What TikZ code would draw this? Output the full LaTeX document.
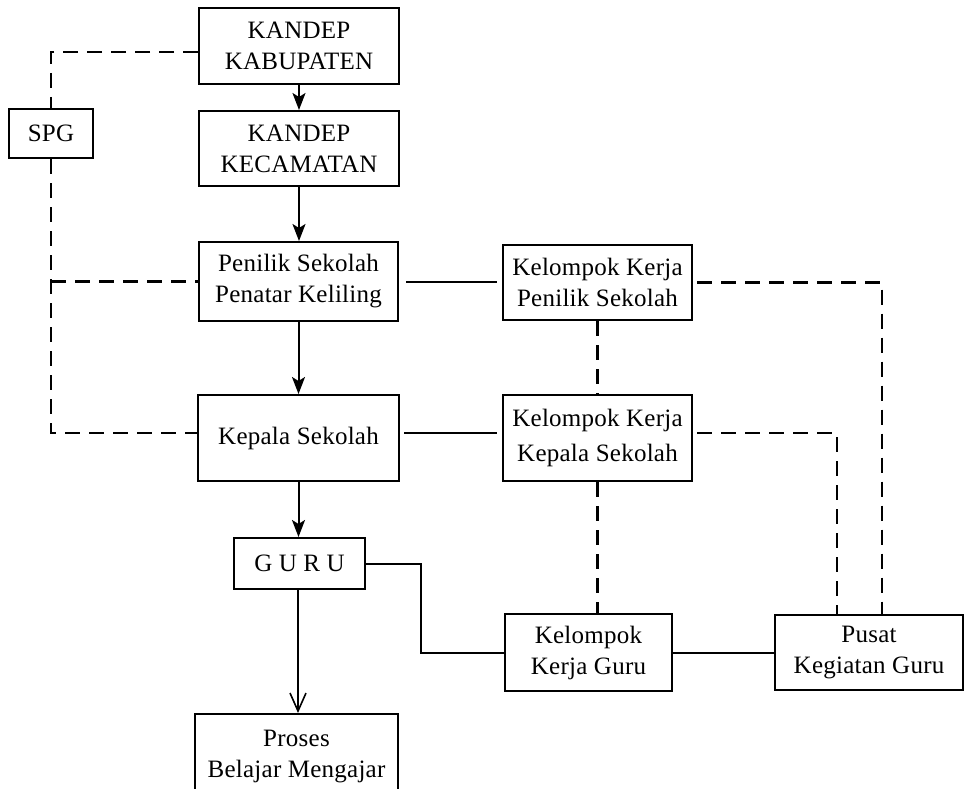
\documentclass[tikz,border=0pt]{standalone}
\usepackage{fontspec}
\setmainfont[LetterSpace=1]{Liberation Serif}
\usetikzlibrary{arrows.meta}
\begin{document}
\begin{tikzpicture}[x=1pt,y=-1pt,
  box/.style={draw,line width=2pt,rectangle,align=center,inner sep=0pt,
    font=\fontsize{25}{31}\selectfont},
  solidline/.style={line width=2pt},
  dashline/.style={line width=2.2pt,dash pattern=on 15pt off 9pt},
  arr/.style={line width=2pt,-{Stealth[length=17pt,width=13pt,inset=4pt]}},
  openarr/.style={line width=2pt,-{Straight Barb[length=18pt,width=16pt,line width=1.6pt]}}]
\useasboundingbox (0,0) rectangle (964,789);
\clip (0,0) rectangle (964,789);
\node[box,minimum width=200pt,minimum height=76pt] (kab) at (299,46) {KANDEP\\KABUPATEN};
\node[box,minimum width=200pt,minimum height=75pt] (kec) at (299,148.5) {KANDEP\\KECAMATAN};
\node[box,minimum width=84pt,minimum height=49pt] (spg) at (51,133.5) {SPG};
\node[box,minimum width=199pt,minimum height=79pt] (pen) at (298.5,281.5) {Penilik Sekolah\\Penatar Keliling};
\node[box,minimum width=189pt,minimum height=75pt] (kkps) at (597.5,282.5) {Kelompok Kerja\\Penilik Sekolah};
\node[box,minimum width=201pt,minimum height=86pt] (kep) at (298.5,438) {Kepala Sekolah};
\node[box,minimum width=189pt,minimum height=86pt,font=\fontsize{25}{35}\selectfont] (kkks) at (597.5,438) {Kelompok Kerja\\Kepala Sekolah};
\node[box,minimum width=131pt,minimum height=51pt] (guru) at (299.5,563.5) {G U R U};
\node[box,minimum width=167pt,minimum height=77pt] (kkg) at (588.5,652.5) {Kelompok\\Kerja Guru};
\node[box,minimum width=188pt,minimum height=75pt] (pusat) at (869,652.5) {Pusat\\Kegiatan Guru};
\node[box,minimum width=203pt,minimum height=86pt,anchor=north] (proses) at (296.5,713) {Proses\\Belajar Mengajar};
\coordinate (gk) at (421,564);
% arrows
\draw[arr] (kab.south) -- (kab.south |- kec.north);
\draw[arr] (kec.south) -- (kec.south |- pen.north);
\draw[arr] (pen.south) -- (pen.south |- kep.north);
\draw[arr] (kep.south) -- (kep.south |- guru.north);
\draw[openarr] ([xshift=-1.5pt]guru.south) -- ([xshift=-1.5pt]guru.south |- proses.north);
% solid connectors
\draw[solidline,shorten <=7pt,shorten >=5pt] (pen.east) -- (pen.east -| kkps.west);
\draw[solidline,shorten <=4pt,shorten >=5pt] ([yshift=5pt]kep.east) -- ([yshift=5pt]kkks.west);
\draw[solidline] (guru.east) -| (gk |- kkg.west) -- (kkg.west);
\draw[solidline] (kkg.east) -- (kkg.east -| pusat.west);
% dashed connectors
\draw[dashline] ([yshift=-6pt]kab.west) -| (spg.north);
\draw[dashline] (spg.south) |- ([yshift=5pt]kep.west);
\draw[dashline] (spg.south |- pen.west) -- (pen.west);
\draw[dashline] (kkps.south) -- (kkps.south |- kkks.north);
\draw[dashline] (kkks.south) -- (kkks.south |- kkg.north);
\draw[dashline,shorten <=4pt] (kkps.east) -| ([xshift=13pt]pusat.north);
\draw[dashline,shorten <=4pt] ([yshift=5pt]kkks.east) -| ([xshift=-32pt]pusat.north);
\end{tikzpicture}
\end{document}
